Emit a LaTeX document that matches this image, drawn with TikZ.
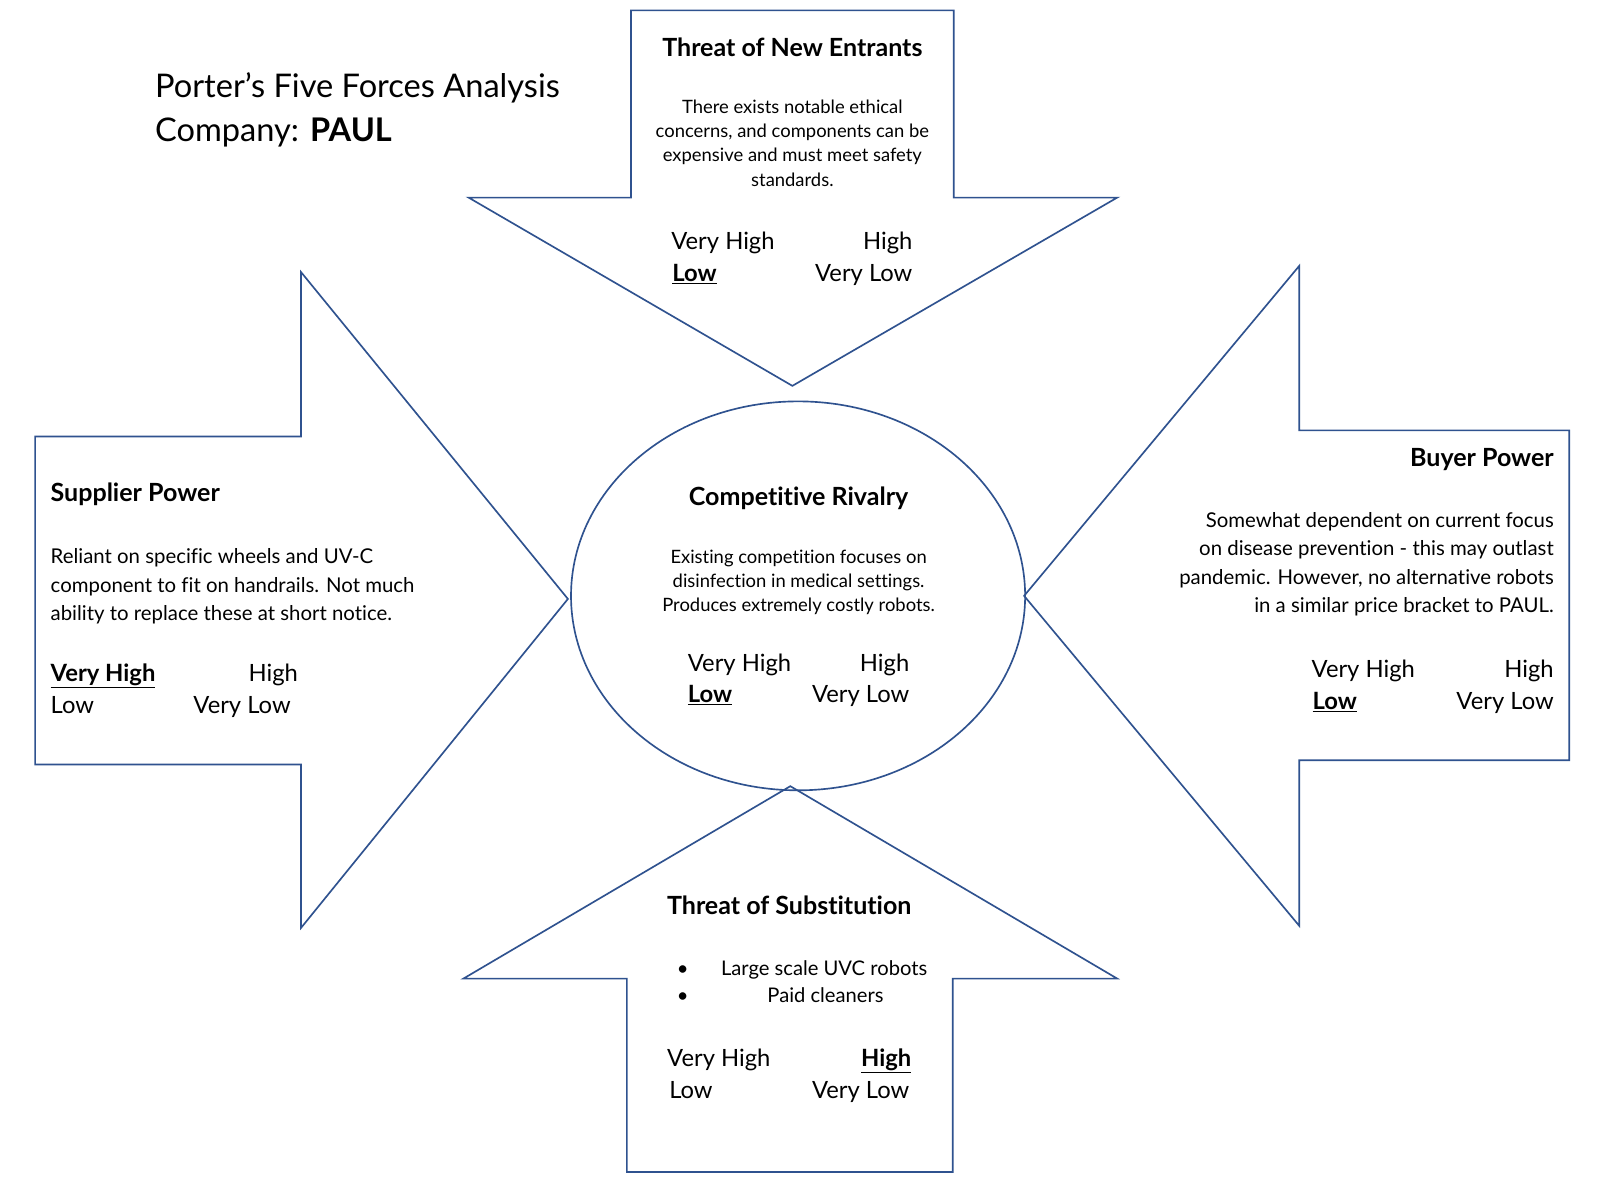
\documentclass[tikz,border=0pt]{standalone}
\usepackage{fontspec}
\setmainfont{Lato}[Ligatures=NoCommon]
\usetikzlibrary{shapes.geometric}
\definecolor{outline}{HTML}{2F528F}
\begin{document}
\begin{tikzpicture}[x=1pt,y=-1pt,
  shapeline/.style={draw=outline, line width=1.6pt, line join=miter},
  txt/.style={inner sep=0pt, outer sep=0pt, text=black},
  titletxt/.style={txt, font=\fontsize{31.5}{36}\selectfont},
  headtxt/.style={txt, font=\fontsize{24.2}{28}\selectfont\bfseries},
  paratxt/.style={txt, font=\fontsize{17.8}{23.3}\selectfont},
  widetxt/.style={txt, font=\fontsize{19.7}{27.3}\selectfont},
  bullettxt/.style={txt, font=\fontsize{19.5}{26}\selectfont},
  ratetxt/.style={txt, font=\fontsize{23}{27}\selectfont},
]
\fill[white] (0,0) rectangle (1568,1141);
\useasboundingbox (0,0) rectangle (1568,1141);

% title
\node[titletxt, anchor=base west] (title1) at (150,94) {Porter’s Five Forces Analysis};
\node[titletxt, anchor=base west] (title2) at (150,137) {Company: \textbf{PAUL}};

% the four force arrows
\draw[shapeline] (610,10) -- (922,10) -- (922,191) -- (1080,191) -- (766,373)
  -- (453,191) -- (610,191) -- cycle;
\draw[shapeline] (34,422) -- (291,422) -- (291,263) -- (549,579) -- (291,897)
  -- (291,739) -- (34,739) -- cycle;
\draw[shapeline] (1517,416) -- (1256,416) -- (1256,257) -- (990,576) -- (1256,895)
  -- (1256,735) -- (1517,735) -- cycle;
\draw[shapeline] (606,1133) -- (921,1133) -- (921,946) -- (1080,946) -- (764,760)
  -- (448,946) -- (606,946) -- cycle;

% centre: competitive rivalry
\node[shapeline, ellipse, minimum width=439pt, minimum height=376pt, inner sep=0pt] (rivalry) at (771.5,576) {};

% threat of new entrants
\node[headtxt, anchor=base] (ne-head) at (766,55) {Threat of New Entrants};
\node[paratxt, anchor=base] (ne-text) at (766,110) {\begin{tabular}[t]{@{}c@{}}There exists notable ethical\\concerns, and components can be\\expensive and must meet safety\\standards.\end{tabular}};
\node[ratetxt, anchor=base west] (ne-vh) at (649,241) {Very High};
\node[ratetxt, anchor=base east] (ne-h) at (882,241) {High};
\node[ratetxt, anchor=base west] (ne-l) at (650,272) {\underline{\textbf{Low}}};
\node[ratetxt, anchor=base east] (ne-vl) at (882,272) {Very Low};

% supplier power
\node[headtxt, anchor=base west] (sp-head) at (49,485) {Supplier Power};
\node[widetxt, anchor=base west] (sp-text) at (49,545) {\begin{tabular}[t]{@{}l@{}}Reliant on specific wheels and UV-C\\component to fit on handrails. Not much\\ability to replace these at short notice.\end{tabular}};
\node[ratetxt, anchor=base west] (sp-vh) at (49,659) {\underline{\textbf{Very High}}};
\node[ratetxt, anchor=base east] (sp-h) at (288,659) {High};
\node[ratetxt, anchor=base west] (sp-l) at (49,690) {Low};
\node[ratetxt, anchor=base east] (sp-vl) at (281,690) {Very Low};

% buyer power
\node[headtxt, anchor=base east] (bp-head) at (1502,451) {Buyer Power};
\node[widetxt, anchor=base east] (bp-text) at (1502,510) {\begin{tabular}[t]{@{}r@{}}Somewhat dependent on current focus\\on disease prevention - this may outlast\\pandemic. However, no alternative robots\\in a similar price bracket to PAUL.\end{tabular}};
\node[ratetxt, anchor=base west] (bp-vh) at (1268,655) {Very High};
\node[ratetxt, anchor=base east] (bp-h) at (1502,655) {High};
\node[ratetxt, anchor=base west] (bp-l) at (1269,686) {\underline{\textbf{Low}}};
\node[ratetxt, anchor=base east] (bp-vl) at (1502,686) {Very Low};

% threat of substitution
\node[headtxt, anchor=base] (ts-head) at (763,884) {Threat of Substitution};
\node[bullettxt, anchor=base] (ts-b1) at (660,943) {\textbullet};
\node[bullettxt, anchor=base west] (ts-i1) at (697,943) {Large scale UVC robots};
\node[bullettxt, anchor=base] (ts-b2) at (660,969) {\textbullet};
\node[bullettxt, anchor=base] (ts-i2) at (798,969) {Paid cleaners};
\node[ratetxt, anchor=base west] (ts-vh) at (645,1031) {Very High};
\node[ratetxt, anchor=base east] (ts-h) at (881,1031) {\underline{\textbf{High}}};
\node[ratetxt, anchor=base west] (ts-l) at (647,1062) {Low};
\node[ratetxt, anchor=base east] (ts-vl) at (879,1062) {Very Low};

% competitive rivalry text
\node[headtxt, anchor=base] (cr-head) at (772,489) {Competitive Rivalry};
\node[paratxt, anchor=base] (cr-text) at (772,545) {\begin{tabular}[t]{@{}c@{}}Existing competition focuses on\\disinfection in medical settings.\\Produces extremely costly robots.\end{tabular}};
\node[ratetxt, anchor=base west] (cr-vh) at (665,649) {Very High};
\node[ratetxt, anchor=base east] (cr-h) at (879,649) {High};
\node[ratetxt, anchor=base west] (cr-l) at (665,679) {\underline{\textbf{Low}}};
\node[ratetxt, anchor=base east] (cr-vl) at (879,679) {Very Low};
\end{tikzpicture}
\end{document}
